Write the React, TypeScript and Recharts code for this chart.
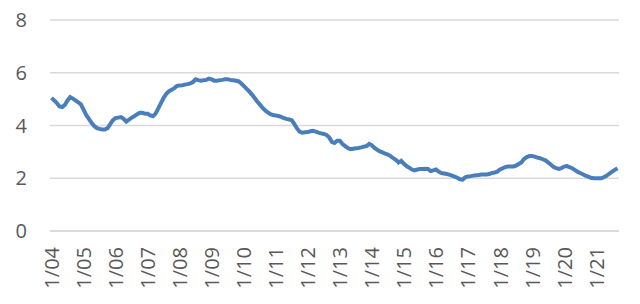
import React from 'react'
import { LineChart, Line, XAxis, YAxis, CartesianGrid } from 'recharts'

// monthly values, Jan 2004 .. Sep 2021
const y2004 = [5.05, 4.95, 4.85, 4.72, 4.7, 4.78, 4.95, 5.08, 5.02, 4.95, 4.88, 4.8]
const y2005 = [4.6, 4.4, 4.25, 4.1, 3.98, 3.9, 3.87, 3.85, 3.85, 3.9, 4.05, 4.2]
const y2006 = [4.28, 4.3, 4.32, 4.25, 4.15, 4.22, 4.3, 4.35, 4.42, 4.48, 4.48, 4.45]
const y2007 = [4.45, 4.38, 4.35, 4.45, 4.65, 4.85, 5.05, 5.2, 5.3, 5.35, 5.42, 5.5]
const y2008 = [5.52, 5.53, 5.55, 5.57, 5.6, 5.65, 5.75, 5.72, 5.7, 5.72, 5.73, 5.78]
const y2009 = [5.75, 5.7, 5.7, 5.72, 5.73, 5.75, 5.75, 5.73, 5.72, 5.7, 5.68, 5.6]
const y2010 = [5.5, 5.4, 5.3, 5.18, 5.05, 4.92, 4.8, 4.68, 4.58, 4.5, 4.43, 4.4]
const y2011 = [4.38, 4.36, 4.33, 4.28, 4.25, 4.23, 4.2, 4.05, 3.88, 3.76, 3.73, 3.74]
const y2012 = [3.75, 3.78, 3.8, 3.77, 3.73, 3.7, 3.68, 3.64, 3.55, 3.38, 3.34, 3.42]
const y2013 = [3.42, 3.3, 3.22, 3.15, 3.1, 3.12, 3.14, 3.15, 3.17, 3.2, 3.22, 3.3]
const y2014 = [3.25, 3.15, 3.08, 3.02, 2.98, 2.93, 2.9, 2.84, 2.76, 2.7, 2.6, 2.66]
const y2015 = [2.55, 2.46, 2.4, 2.33, 2.3, 2.33, 2.35, 2.35, 2.36, 2.35, 2.27, 2.3]
const y2016 = [2.33, 2.25, 2.2, 2.18, 2.16, 2.14, 2.1, 2.06, 2.02, 1.96, 1.95, 2.04]
const y2017 = [2.07, 2.08, 2.1, 2.11, 2.12, 2.14, 2.14, 2.14, 2.16, 2.2, 2.22, 2.25]
const y2018 = [2.33, 2.38, 2.42, 2.45, 2.45, 2.45, 2.48, 2.54, 2.6, 2.73, 2.8, 2.84]
const y2019 = [2.84, 2.82, 2.78, 2.76, 2.72, 2.68, 2.6, 2.52, 2.43, 2.38, 2.35, 2.38]
const y2020 = [2.44, 2.46, 2.42, 2.38, 2.32, 2.25, 2.2, 2.15, 2.1, 2.06, 2.02, 2.0]
const y2021 = [2.0, 2.0, 2.0, 2.05, 2.1, 2.18, 2.25, 2.32, 2.38]

const years = [
  y2004, y2005, y2006, y2007, y2008, y2009, y2010, y2011, y2012,
  y2013, y2014, y2015, y2016, y2017, y2018, y2019, y2020, y2021,
]
const firstYear = 2004
const yTicks = [0, 2, 4, 6, 8]

const data = years.flatMap((vals, i) => {
  const yy = String((firstYear + i) % 100).padStart(2, '0')
  return vals.map((v, m) => ({ label: `${m + 1}/${yy}`, value: v }))
})

const FONT = '"Open Sans", "Noto Sans", sans-serif'
const TEXT = '#595959'

const RotatedTick = ({ x, y, payload }: any) => (
  <text
    x={x}
    y={y}
    transform={`rotate(-90, ${x}, ${y})`}
    textAnchor="end"
    dominantBaseline="central"
    fill={TEXT}
    fontSize={20}
    fontFamily={FONT}
  >
    {payload.value}
  </text>
)

export default function App() {
  return (
    <div style={{ position: 'absolute', left: 0, top: 0, background: '#fff' }}>
      <LineChart width={640} height={304} data={data} margin={{ top: 20, right: 21, left: 0, bottom: 0 }}>
        <CartesianGrid vertical={false} stroke="#d9d9d9" strokeWidth={1.5} />
        <XAxis
          dataKey="label"
          interval={11}
          height={73}
          tickSize={0}
          tickMargin={16}
          tickLine={false}
          axisLine={{ stroke: '#d9d9d9', strokeWidth: 1.5 }}
          padding={{ left: 1.5, right: 1.5 }}
          tick={<RotatedTick />}
        />
        <YAxis
          domain={[0, 8]}
          ticks={yTicks}
          width={50}
          tickSize={0}
          tickMargin={23}
          tickLine={false}
          axisLine={false}
          tick={{ fill: TEXT, fontSize: 20, fontFamily: FONT }}
        />
        <Line
          type="linear"
          dataKey="value"
          stroke="#4a7ebb"
          strokeWidth={4}
          dot={false}
          isAnimationActive={false}
        />
      </LineChart>
    </div>
  )
}
